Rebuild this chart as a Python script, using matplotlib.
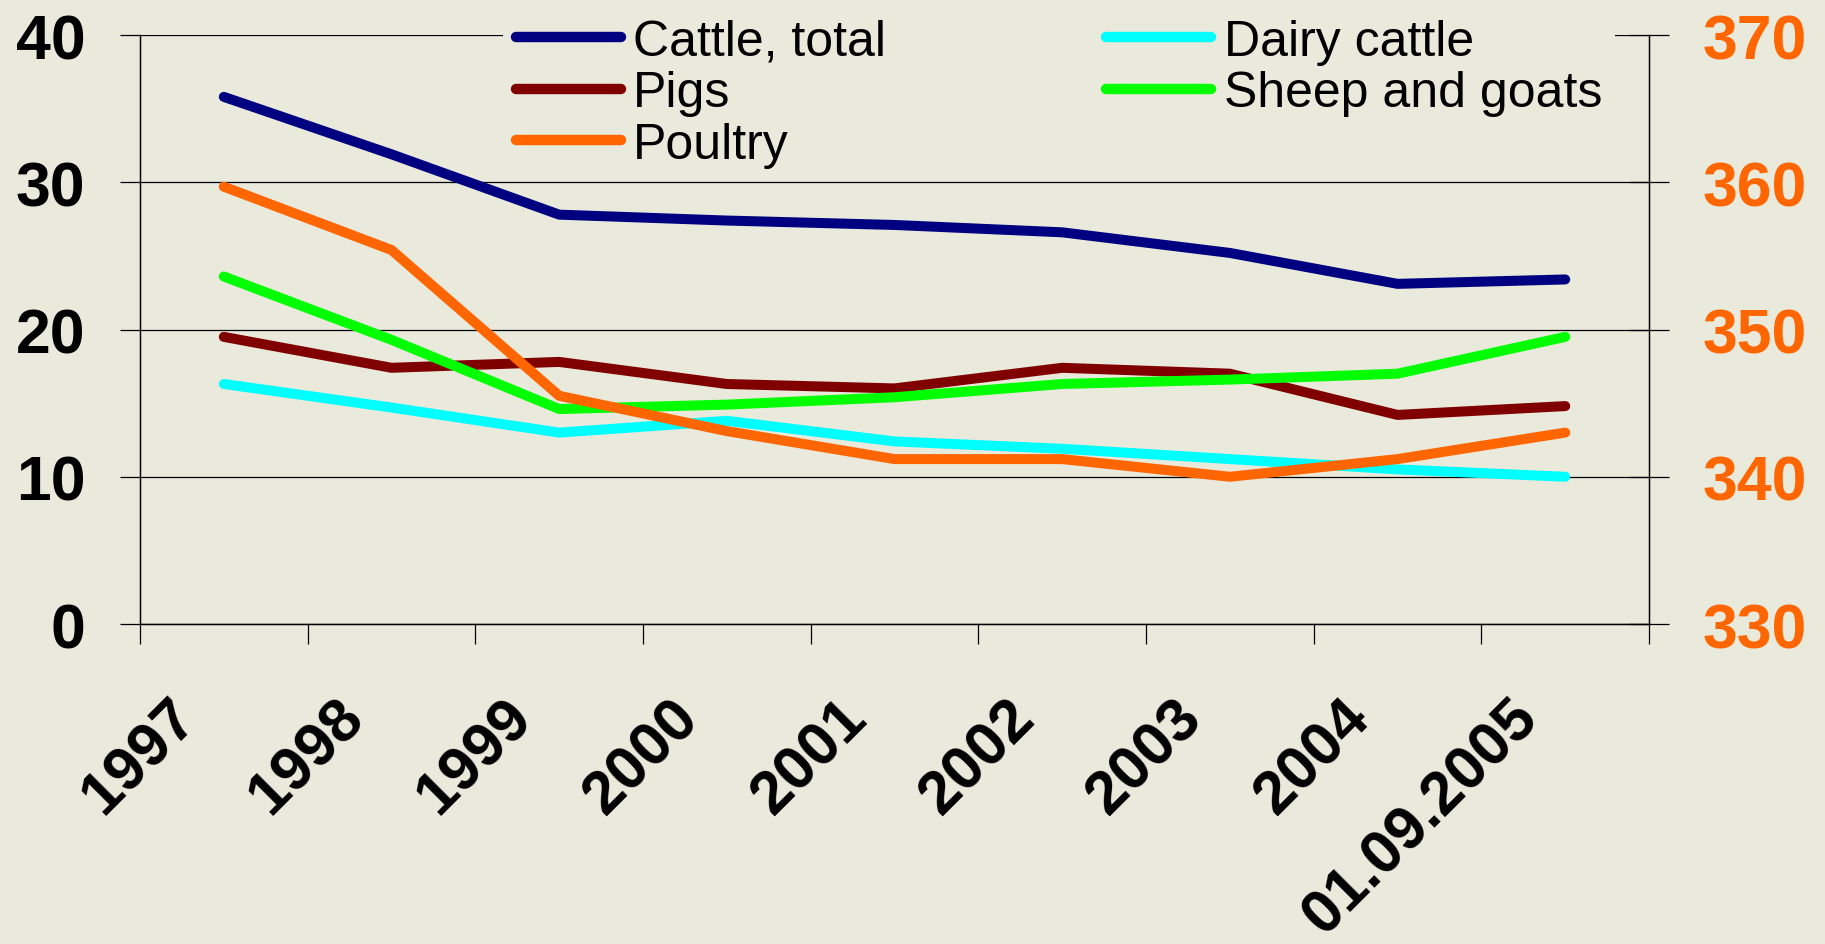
import numpy as np
import matplotlib
matplotlib.use('Agg')
import matplotlib.pyplot as plt

# Dati
anni = ['1997', '1998', '1999', '2000', '2001', '2002', '2003', '2004', '01.09.2005']
bovini = [35.8, 31.9, 27.8, 27.4, 27.1, 26.6, 25.2, 23.1, 23.4]
vacche = [16.3, 14.7, 13.0, 13.8, 12.4, 11.9, 11.2, 10.5, 10.0]
suini = [19.5, 17.4, 17.8, 16.3, 16.0, 17.4, 17.0, 14.2, 14.8]
ovini = [23.6, 19.3, 14.6, 14.9, 15.4, 16.3, 16.6, 17.0, 19.5]
pollame = [359.7, 355.4, 345.5, 343.1, 341.2, 341.2, 340.0, 341.2, 343.0]

plt.rcParams['font.family'] = ['Liberation Sans', 'DejaVu Sans']
sfondo = '#E9E9DC'

fig = plt.figure(figsize=(18.25, 9.45), dpi=100, facecolor=sfondo)
ax = fig.add_axes([0.0767, 0.3386, 0.8269, 0.6233])
ax.set_facecolor(sfondo)
ax2 = ax.twinx()

x = np.arange(len(anni)) + 0.5
stile = dict(lw=7.2, solid_capstyle='round', solid_joinstyle='round')
l1, = ax.plot(x, bovini, color='#000080', label='Cattle, total', **stile)
l4, = ax.plot(x, vacche, color='#00FFFF', label='Dairy cattle', **stile)
l2, = ax.plot(x, suini, color='#800000', label='Pigs', **stile)
l5, = ax.plot(x, ovini, color='#00FF00', label='Sheep and goats', **stile)
l3, = ax2.plot(x, pollame, color='#FF6600', label='Poultry', **stile)

ax.set_xlim(0, len(anni))
ax.set_ylim(0, 40)
ax2.set_ylim(330, 370)
ax.set_yticks(range(0, 41, 10))
ax2.set_yticks(range(330, 371, 10))

ax.grid(axis='y', color='black', lw=0.9)
ax.set_axisbelow(True)

# assi: tacche sui bordi delle categorie, etichette al centro
ax.set_xticks(range(len(anni) + 1))
ax.set_xticklabels([])
ax.set_xticks(np.arange(len(anni)) + 0.35, minor=True)
ax.set_xticklabels(anni, minor=True, rotation=45, ha='right', va='baseline',
                   rotation_mode='anchor', fontsize=44, fontweight='bold')
ax.tick_params(axis='x', which='major', direction='out', length=14.4, width=0.9)
ax.tick_params(axis='x', which='minor', length=0, pad=69)

ax.tick_params(axis='y', direction='out', length=14.4, width=0.9, pad=25,
               labelsize=45)
for t in ax.get_yticklabels():
    t.set_fontweight('bold')
ax2.tick_params(axis='y', direction='inout', length=28.8, width=0.9, pad=23.8,
                labelsize=45, labelcolor='#FF6600')
for t in ax2.get_yticklabels():
    t.set_fontweight('bold')

for a in (ax, ax2):
    a.spines['top'].set_visible(False)
    for s in ('left', 'right', 'bottom'):
        a.spines[s].set_linewidth(0.9)
ax2.patch.set_visible(False)

leg = fig.legend(handles=[l1, l2, l3, l4, l5], ncol=2, loc='upper left',
                 bbox_to_anchor=(0.262, 1.019), fontsize=36,
                 handlelength=2.1, handletextpad=0.25, columnspacing=4.4,
                 labelspacing=0.11, borderpad=0.25, frameon=True,
                 facecolor=sfondo, edgecolor='none', framealpha=1)
for h in leg.legend_handles:
    h.set_linewidth(7.5)

plt.savefig('out.png', dpi=100, facecolor=sfondo)
